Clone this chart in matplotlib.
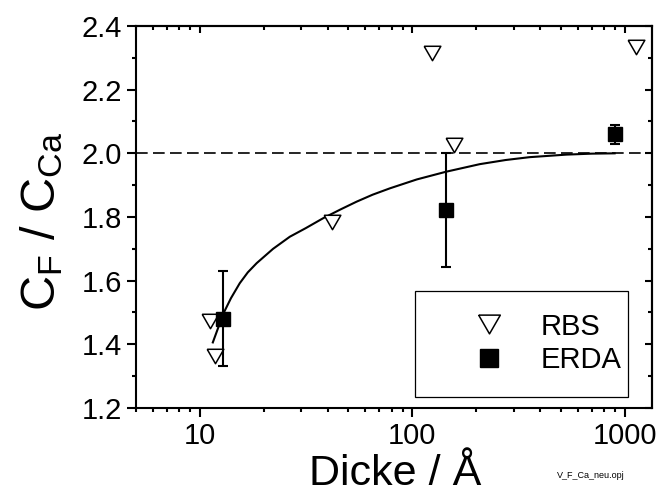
import numpy as np
import matplotlib
matplotlib.use('Agg')
import matplotlib.pyplot as plt
import matplotlib.ticker as ticker
from matplotlib.patches import Rectangle

plt.rcParams['font.family'] = 'Liberation Sans'
plt.rcParams['mathtext.fontset'] = 'custom'
plt.rcParams['mathtext.rm'] = 'Liberation Sans'
plt.rcParams['mathtext.it'] = 'Liberation Sans:italic'

# Daten
rbs_x = [11.2, 11.8, 41.8, 124, 158, 1130]
rbs_y = [1.474, 1.364, 1.785, 2.314, 2.026, 2.335]

erda_x = [12.9, 144, 900]
erda_y = [1.481, 1.822, 2.06]
erda_err = [0.15, 0.18, 0.03]

fit_x = [11.5, 12.9, 14.0, 15.4, 16.8, 18.5, 22.1, 26.5, 31.5, 38.0, 46.0, 54.6,
         65.0, 78.4, 105, 143.8, 207.8, 275, 357, 532, 700, 897]
fit_y = [1.406, 1.497, 1.545, 1.592, 1.626, 1.655, 1.700, 1.738, 1.765, 1.796, 1.824,
         1.848, 1.870, 1.890, 1.918, 1.942, 1.966, 1.979, 1.988, 1.996, 1.999, 2.0]

grenze = 2.0

fig = plt.figure(figsize=(6.6, 4.95), dpi=100)
ax = fig.add_axes([136/660, 87/495, 516/660, 382/495])

tri = [(-1, 0.866), (1, 0.866), (0, -0.866), (-1, 0.866)]

ax.axhline(grenze, color='black', lw=1.2, ls=(0, (7.0, 3.2)), zorder=1)
ax.plot(fit_x, fit_y, color='black', lw=1.5, zorder=2)
ax.plot(rbs_x, rbs_y, ls='none', marker=tri, ms=12, mfc='white', mec='black',
        mew=1.1, label='RBS', zorder=3)
ax.errorbar(erda_x, erda_y, yerr=erda_err, fmt='none', ecolor='black',
            elinewidth=1.5, capsize=3.6, capthick=1.5, zorder=4)
ax.plot(erda_x, erda_y, ls='none', marker='s', ms=10, mfc='black', mec='black',
        label='ERDA', zorder=5)

ax.set_xscale('log')
ax.set_xlim(5, 1345)
ax.set_ylim(1.2, 2.4)

ax.xaxis.set_major_locator(ticker.FixedLocator([10, 100, 1000]))
ax.xaxis.set_major_formatter(ticker.FuncFormatter(lambda v, p: f'{v:g}'))
ax.xaxis.set_minor_locator(ticker.LogLocator(base=10, subs=np.arange(2, 10)))
ax.xaxis.set_minor_formatter(ticker.NullFormatter())
ax.yaxis.set_major_locator(ticker.MultipleLocator(0.2))
ax.yaxis.set_minor_locator(ticker.MultipleLocator(0.1))
ax.yaxis.set_major_formatter(ticker.FormatStrFormatter('%.1f'))

for s in ax.spines.values():
    s.set_linewidth(1.5)
ax.tick_params(which='major', direction='out', length=6.5, width=1.5,
               labelsize=21, pad=3.5)
ax.tick_params(which='minor', direction='out', length=3.2, width=1.5)

sx = ax.secondary_xaxis('top')
sx.xaxis.set_major_locator(ticker.FixedLocator([10, 100, 1000]))
sx.xaxis.set_minor_locator(ticker.LogLocator(base=10, subs=np.arange(2, 10)))
sx.tick_params(which='major', direction='in', length=5, width=1.5, labeltop=False)
sx.tick_params(which='minor', direction='in', length=3.2, width=1.5)
sy = ax.secondary_yaxis('right')
sy.yaxis.set_major_locator(ticker.MultipleLocator(0.2))
sy.yaxis.set_minor_locator(ticker.MultipleLocator(0.1))
sy.tick_params(which='major', direction='in', length=5, width=1.5, labelright=False)
sy.tick_params(which='minor', direction='in', length=3.2, width=1.5)
for sa in (sx, sy):
    for s in sa.spines.values():
        s.set_linewidth(1.5)

ax.add_patch(Rectangle((0.5407, 0.0296), 0.4133, 0.2775, transform=ax.transAxes,
                       fill=False, ec='black', lw=0.9, zorder=6))
ax.legend(frameon=False, loc='center left', bbox_to_anchor=(0.628, 0.169),
          borderpad=0, handlelength=1.0, handletextpad=1.26, labelspacing=0.2,
          markerscale=1.3, fontsize=21)

fig.text(395/660, 1 - 494/495, 'Dicke / Å', fontsize=31, ha='center', va='bottom')
fig.text(42/660, 1 - 221/495, r'$\mathregular{C_F\ /\ C_{Ca}}$', fontsize=35,
         rotation=90, ha='center', va='center')
fig.text(557/660, 1 - 478/495, 'V_F_Ca_neu.opj', fontsize=6.5, ha='left', va='baseline')

fig.savefig('out.png', dpi=100)
